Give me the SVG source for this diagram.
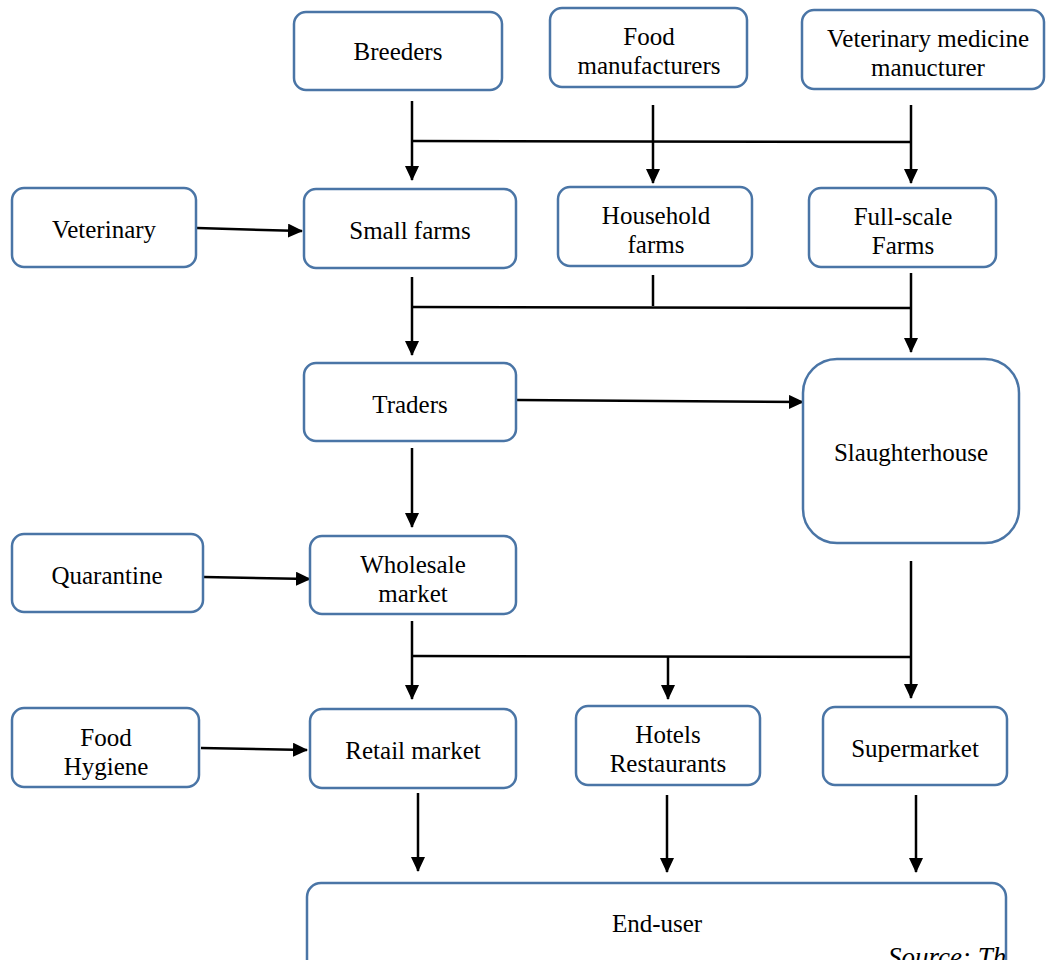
<svg xmlns="http://www.w3.org/2000/svg" width="1046" height="960" viewBox="0 0 1046 960">
<style>
.n{fill:#fff;stroke:#4a75a6;stroke-width:2.5}
.t{font-family:"Liberation Serif","Times New Roman",serif;font-size:25px;fill:#000;text-anchor:middle}
.c{stroke:#000;stroke-width:2.5;fill:none}
.a{stroke:#000;stroke-width:2.5;fill:none;marker-end:url(#ah)}
</style>
<defs>
<marker id="ah" markerWidth="15" markerHeight="14" refX="14" refY="7" orient="auto" markerUnits="userSpaceOnUse" viewBox="0 0 15 14">
<path d="M0,0 L15,7 L0,14 Z" fill="#000"/>
</marker>
</defs>
<rect width="1046" height="960" fill="#fff"/>
<g id="connectors">
<line class="c" x1="412" y1="101" x2="412" y2="141"/>
<line class="a" x1="412" y1="141" x2="412" y2="180"/>
<line class="c" x1="412" y1="141" x2="911" y2="142"/>
<line class="a" x1="653" y1="105" x2="653" y2="183"/>
<line class="a" x1="911" y1="105" x2="911" y2="183"/>
<line class="a" x1="197" y1="228" x2="302" y2="231"/>
<line class="a" x1="412" y1="277" x2="412" y2="355"/>
<line class="c" x1="653" y1="275" x2="653" y2="306"/>
<line class="c" x1="412" y1="307" x2="911" y2="308"/>
<line class="a" x1="911" y1="273" x2="911" y2="352"/>
<line class="a" x1="517" y1="400" x2="803" y2="402"/>
<line class="a" x1="412" y1="448" x2="412" y2="527"/>
<line class="a" x1="204" y1="577" x2="310" y2="579"/>
<line class="a" x1="412" y1="621" x2="412" y2="699"/>
<line class="c" x1="412" y1="656" x2="911" y2="657"/>
<line class="a" x1="668" y1="656" x2="668" y2="699"/>
<line class="a" x1="911" y1="561" x2="911" y2="698"/>
<line class="a" x1="201" y1="748" x2="307" y2="750"/>
<line class="a" x1="418" y1="793" x2="418" y2="871"/>
<line class="a" x1="667" y1="795" x2="667" y2="872"/>
<line class="a" x1="916" y1="795" x2="916" y2="872"/>
</g>
<g id="breeders"><rect class="n" x="294" y="12" width="208" height="78" rx="12"/><text class="t" x="398" y="60">Breeders</text></g>
<g id="food-manufacturers"><rect class="n" x="550" y="8" width="197" height="79" rx="12"/><text class="t" x="649" y="45">Food</text><text class="t" x="649" y="74">manufacturers</text></g>
<g id="vet-medicine"><rect class="n" x="802" y="10" width="242" height="79" rx="12"/><text class="t" x="928" y="47">Veterinary medicine</text><text class="t" x="928" y="76">manucturer</text></g>
<g id="veterinary"><rect class="n" x="12" y="188" width="184" height="79" rx="12"/><text class="t" x="104" y="238">Veterinary</text></g>
<g id="small-farms"><rect class="n" x="304" y="189" width="212" height="79" rx="12"/><text class="t" x="410" y="239">Small farms</text></g>
<g id="household-farms"><rect class="n" x="558" y="187" width="194" height="79" rx="12"/><text class="t" x="656" y="224">Household</text><text class="t" x="656" y="253">farms</text></g>
<g id="full-scale-farms"><rect class="n" x="809" y="188" width="187" height="79" rx="12"/><text class="t" x="903" y="225">Full-scale</text><text class="t" x="903" y="254">Farms</text></g>
<g id="traders"><rect class="n" x="304" y="363" width="212" height="78" rx="12"/><text class="t" x="410" y="413">Traders</text></g>
<g id="slaughterhouse"><rect class="n" x="803" y="359" width="216" height="184" rx="34"/><text class="t" x="911" y="461">Slaughterhouse</text></g>
<g id="quarantine"><rect class="n" x="12" y="534" width="191" height="78" rx="12"/><text class="t" x="107" y="584">Quarantine</text></g>
<g id="wholesale-market"><rect class="n" x="310" y="536" width="206" height="78" rx="12"/><text class="t" x="413" y="573">Wholesale</text><text class="t" x="413" y="602">market</text></g>
<g id="food-hygiene"><rect class="n" x="12" y="708" width="187" height="79" rx="12"/><text class="t" x="106" y="746">Food</text><text class="t" x="106" y="775">Hygiene</text></g>
<g id="retail-market"><rect class="n" x="310" y="709" width="206" height="79" rx="12"/><text class="t" x="413" y="759">Retail market</text></g>
<g id="hotels-restaurants"><rect class="n" x="576" y="706" width="184" height="79" rx="12"/><text class="t" x="668" y="743">Hotels</text><text class="t" x="668" y="772">Restaurants</text></g>
<g id="supermarket"><rect class="n" x="823" y="707" width="184" height="78" rx="12"/><text class="t" x="915" y="757">Supermarket</text></g>
<g id="end-user"><rect class="n" x="307" y="883" width="699" height="100" rx="14"/><text class="t" x="657" y="932">End-user</text></g>
<text x="888" y="966" style="font-family:'Liberation Serif','Times New Roman',serif;font-size:27px;font-style:italic">Source: Th</text>
</svg>
